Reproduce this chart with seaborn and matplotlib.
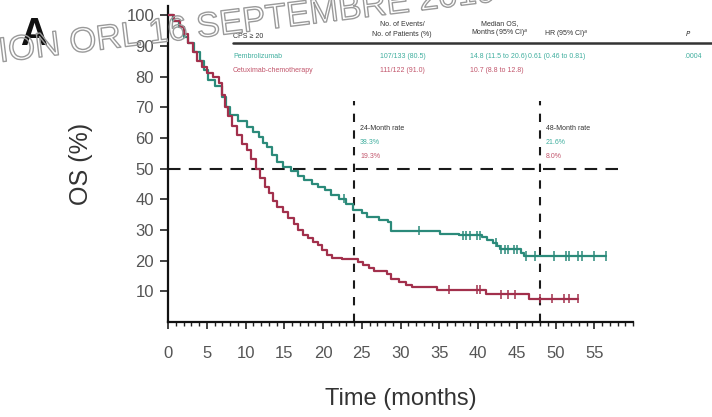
import numpy as np
import pandas as pd
import matplotlib
matplotlib.use("Agg")
import matplotlib.pyplot as plt
import matplotlib.patheffects as pe
from matplotlib.lines import Line2D
import seaborn as sns

# ---------------- data ----------------
pem_t = [0, 0.7, 1.4, 2.0, 2.6, 3.3, 4.1, 4.7, 5.2, 6.0, 7.0, 7.5, 8.0, 9.0, 10.2, 11.0,
         11.7, 12.3, 12.8, 13.4, 14.1, 14.8, 15.9, 16.8, 17.6, 18.6, 19.4, 20.2, 21.0,
         22.0, 23.0, 23.9, 25.0, 25.7, 27.2, 28.4, 28.8, 35.1, 37.5, 40.5, 41.2, 41.9,
         42.4, 42.8, 45.5, 45.9, 56.5]
pem_s = [100, 98, 96, 93, 91, 88, 85, 82, 79, 77, 73.5, 70, 67.5, 65.5, 63.5, 62,
         60.3, 58.5, 57, 54.5, 52, 50.5, 49.3, 47.5, 46.2, 45, 44, 43, 41.5,
         40.2, 38.5, 36.5, 35.5, 34.2, 33.3, 32.5, 29.8, 28.7, 28.2, 27.6, 26.8, 25.9,
         24.8, 23.7, 22.6, 21.5, 21.5]
pem_cens = [22.7, 32.4, 38.1, 38.5, 39.0, 39.9, 40.3, 42.3, 43.0, 43.5, 43.9, 44.6, 45.0,
            46.2, 47.3, 49.8, 51.4, 51.8, 52.9, 53.4, 55.0, 56.5]

cet_t = [0, 0.8, 1.5, 2.0, 2.6, 3.2, 3.8, 4.4, 5.0, 5.8, 6.6, 7.0, 7.3, 7.8, 8.3, 8.9,
         9.5, 10.2, 10.7, 11.3, 11.9, 12.5, 13.0, 13.6, 14.1, 14.8, 15.5, 16.2, 16.8,
         17.4, 18.0, 18.7, 19.4, 19.9, 20.5, 21.2, 22.5, 24.5, 25.2, 25.9, 26.6, 28.2,
         28.8, 29.8, 30.7, 31.5, 34.7, 41.0, 46.6, 52.9]
cet_s = [100, 98, 96, 94, 91, 88, 85, 83, 81, 80, 78, 74, 70, 67, 64, 61,
         58, 56, 53, 50, 47, 44, 42, 39.5, 37.5, 36, 34, 32, 30,
         28.5, 27.5, 26, 25, 23.5, 22, 21, 20.5, 19.5, 18.5, 17.5, 16.6, 15.5,
         14, 13, 12.2, 11.3, 10.5, 9.0, 7.6, 7.6]
cet_cens = [36.3, 39.9, 40.3, 43.0, 43.9, 44.8, 48.0, 49.5, 51.1, 51.8, 52.9]

groups = ["Pembrolizumab", "Cetuximab-chemotherapy"]
colors = {"Pembrolizumab": "#2b8a7a", "Cetuximab-chemotherapy": "#a2304c"}
text_colors = {"Pembrolizumab": "#3fae9e", "Cetuximab-chemotherapy": "#c2566c"}

events = ["107/133 (80.5)", "111/122 (91.0)"]
medians = ["14.8 (11.5 to 20.6)", "10.7 (8.8 to 12.8)"]
hr_text = "0.61 (0.46 to 0.81)"
p_text = ".0004"
rate24 = ["38.3%", "19.3%"]
rate48 = ["21.6%", "8.0%"]
landmarks = [24, 48]

xticks = list(range(0, 60, 5))
yticks = list(range(10, 101, 10))

# ---------------- frames ----------------
curve = pd.concat([
    pd.DataFrame({"time": pem_t, "surv": pem_s, "arm": groups[0]}),
    pd.DataFrame({"time": cet_t, "surv": cet_s, "arm": groups[1]}),
])

def surv_at(ts, t, s):
    idx = np.searchsorted(np.asarray(t), np.asarray(ts), side="right") - 1
    return np.asarray(s)[idx]

cens = pd.concat([
    pd.DataFrame({"time": pem_cens, "surv": surv_at(pem_cens, pem_t, pem_s), "arm": groups[0]}),
    pd.DataFrame({"time": cet_cens, "surv": surv_at(cet_cens, cet_t, cet_s), "arm": groups[1]}),
])

# ---------------- figure ----------------
sns.set_theme(style="white")
plt.rcParams["font.family"] = ["Liberation Sans", "DejaVu Sans"]
W, H = 712, 417
X0, PXM = 168, 7.75          # axis origin (px) and px per month used for layout
XMAX = 60
fig = plt.figure(figsize=(W / 100, H / 100), dpi=100)
ax = fig.add_axes([X0 / W, 1 - 322 / H, XMAX * PXM / W, (322 - 6) / H])

for g in groups:
    d = curve[curve.arm == g]
    ax.plot(d.time, d.surv, drawstyle="steps-post", color=colors[g], lw=1.6, zorder=3)
sns.scatterplot(data=cens, x="time", y="surv", hue="arm", palette=colors, marker="|",
                s=45, linewidth=1.1, legend=False, ax=ax, zorder=4)

# reference lines
ax.plot([0, 58.6], [50, 50], color="#1a1a1a", lw=1.5, dashes=(6, 4), zorder=2)
for lm in landmarks:
    ax.plot([lm, lm], [0, 72], color="#1a1a1a", lw=1.5, dashes=(4, 4), zorder=2)

ax.set_xlim(0, XMAX)
ax.set_ylim(0, 103)
ax.set_xticks(xticks)
ax.set_xticks(range(0, XMAX + 1), minor=True)
ax.set_yticks(yticks)
ax.tick_params(axis="x", which="major", direction="out", length=5, width=1.2,
               color="#222", labelsize=12, labelcolor="#555", pad=12, bottom=True)
ax.tick_params(axis="x", which="minor", direction="out", length=3, width=1,
               color="#222", bottom=True)
ax.tick_params(axis="y", direction="out", length=6, width=1.2, color="#222",
               labelsize=12, labelcolor="#555", pad=4, left=True)
for s in ["top", "right"]:
    ax.spines[s].set_visible(False)
for s in ["left", "bottom"]:
    ax.spines[s].set_color("#111")
    ax.spines[s].set_linewidth(1.6)
ax.set_xlabel("Time (months)", fontsize=17, color="#333", labelpad=20)
ax.set_ylabel("OS (%)", fontsize=18, color="#333", labelpad=24)
ax.set_facecolor("white")

# ---------------- table & annotations ----------------
def ft(x, y, s, **kw):
    fig.text(x / W, 1 - y / H, s, **kw)

fs = 5.0
ft(233, 37, "CPS \u2265 20", fontsize=fs, color="#333", va="center")
ft(402, 24, "No. of Events/", fontsize=fs, color="#333", va="center", ha="center")
ft(402, 34, "No. of Patients (%)", fontsize=fs, color="#333", va="center", ha="center")
ft(500, 24, "Median OS,", fontsize=fs, color="#333", va="center", ha="center")
ft(500, 34, "Months (95% CI)$^{a}$", fontsize=fs, color="#333", va="center", ha="center")
ft(566, 35, "HR (95% CI)$^{a}$", fontsize=fs, color="#333", va="center", ha="center")
ft(688, 34, "$P$", fontsize=fs, color="#333", va="center", ha="center")
fig.add_artist(Line2D([233 / W, 1.0], [1 - 43 / H, 1 - 43 / H], color="#333", lw=1.8))

for i, g in enumerate(groups):
    y = 57 + 14 * i
    c = text_colors[g]
    ft(233, y, g, fontsize=fs, color=c, va="center")
    ft(380, y, events[i], fontsize=fs, color=c, va="center")
    ft(470, y, medians[i], fontsize=fs, color=c, va="center")
ft(528, 57, hr_text, fontsize=fs, color=text_colors[groups[0]], va="center")
ft(684, 57, p_text, fontsize=fs, color=text_colors[groups[0]], va="center")

for lm, rates in zip(landmarks, [rate24, rate48]):
    xpx = X0 + lm * PXM + 6
    ft(xpx, 128, f"{lm}-Month rate", fontsize=fs, color="#333", va="center")
    ft(xpx, 143, rates[0], fontsize=fs, color=text_colors[groups[0]], va="center")
    ft(xpx, 157, rates[1], fontsize=fs, color=text_colors[groups[1]], va="center")

ft(20, 35, "A", fontsize=27, fontweight="bold", color="#111", va="center")

# watermark (outlined text)
fig.text(0 / W, 1 - 62 / H, "ION ORL 16 SEPTEMBRE 2019", fontsize=25, color="none",
         rotation=7, rotation_mode="anchor", ha="left", va="baseline", zorder=10,
         path_effects=[pe.withStroke(linewidth=1.0, foreground="#9a9a9a")])

fig.savefig("out.png", dpi=100, facecolor="white")
